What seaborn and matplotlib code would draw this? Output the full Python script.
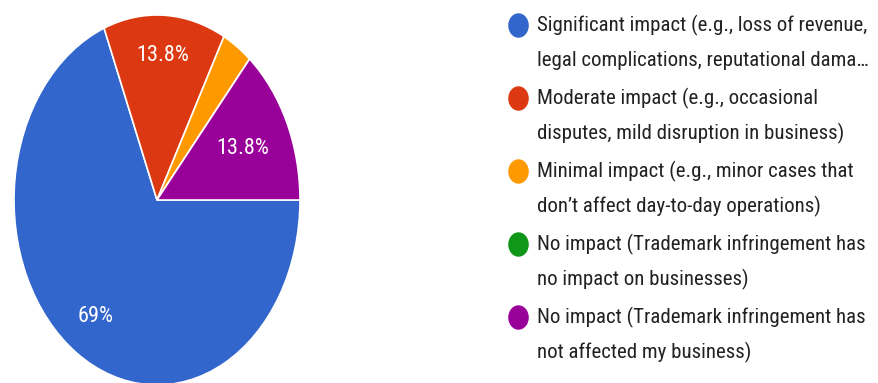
import matplotlib
matplotlib.use("Agg")
import matplotlib.pyplot as plt
import numpy as np
from matplotlib.path import Path
from matplotlib.transforms import Affine2D
import seaborn as sns

# Survey responses: impact of trademark infringement on businesses
categories = [
    "Significant impact (e.g., loss of revenue,\nlegal complications, reputational dama\u2026",
    "Moderate impact (e.g., occasional\ndisputes, mild disruption in business)",
    "Minimal impact (e.g., minor cases that\ndon\u2019t affect day-to-day operations)",
    "No impact (Trademark infringement has\nno impact on businesses)",
    "No impact (Trademark infringement has\nnot affected my business)",
]
counts = [20, 4, 1, 0, 4]
colors = ["#3366CC", "#DC3912", "#FF9900", "#109618", "#990099"]

# radial placement of the percentage labels inside each wedge
label_radius = [0.76, 0.78, 0.72, 0.72, 0.66]

sns.set_theme(style="white")
plt.rcParams["font.family"] = ["Roboto Condensed", "DejaVu Sans"]

W, H = 879, 383
fig = plt.figure(figsize=(W / 100, H / 100), dpi=100)
fig.patch.set_facecolor("white")

# Pie (drawn stretched vertically into an ellipse)
cx, cy, rx, ry = 157, 200, 143, 185
ax = fig.add_axes([(cx - rx) / W, (H - cy - ry) / H, 2 * rx / W, 2 * ry / H])


def fmt(p):
    if p < 5:
        return ""
    s = f"{p:.1f}".rstrip("0").rstrip(".")
    return s + "%"


wedges, texts, autotexts = ax.pie(
    counts,
    colors=colors,
    startangle=0,
    counterclock=False,
    autopct=fmt,
    pctdistance=0.72,
    wedgeprops=dict(edgecolor="white", linewidth=1.2),
    textprops=dict(color="white", fontsize=16),
)
for w, t, r in zip(wedges, autotexts, label_radius):
    mid = np.deg2rad((w.theta1 + w.theta2) / 2)
    t.set_position((r * np.cos(mid), r * np.sin(mid)))

ax.set_aspect("auto")
ax.set_xlim(-1, 1)
ax.set_ylim(-1, 1)
ax.axis("off")

# Legend drawn in pixel coordinates
lax = fig.add_axes([0, 0, 1, 1])
lax.set_xlim(0, W)
lax.set_ylim(H, 0)
lax.axis("off")

oval = Path.unit_circle().transformed(Affine2D().scale(0.83, 1.0))
y0, pitch, line_gap = 25, 73, 35
for i, (label, c) in enumerate(zip(categories, colors)):
    y = y0 + i * pitch
    lax.plot([518], [y], marker=oval, markersize=16.6, color=c, linestyle="none")
    for j, line in enumerate(label.split("\n")):
        lax.text(537, y + j * line_gap, line, fontsize=15, color="#222222",
                 va="center", ha="left")

fig.savefig("out.png", dpi=100, facecolor="white")
